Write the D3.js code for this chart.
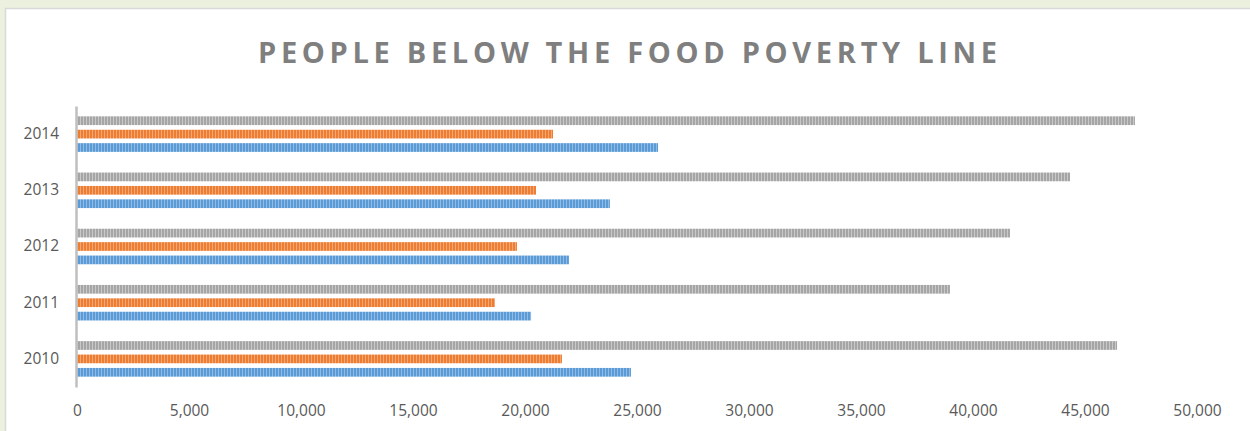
<!DOCTYPE html>
<html>
<head>
<meta charset="utf-8">
<script src="https://cdn.jsdelivr.net/npm/d3@7"></script>
<style>
  html, body { margin: 0; padding: 0; background: #ebf1de; }
  svg { display: block; }
</style>
</head>
<body>
<svg id="chart"></svg>
<script>
// data
const years = ["2010", "2011", "2012", "2013", "2014"];
const seriesNames = ["blue", "orange", "gray"];
const blueValues = [24730, 20270, 21960, 23790, 25940];
const orangeValues = [21650, 18660, 19640, 20490, 21250];
const grayValues = [46430, 38970, 41650, 44330, 47230];
const xTicks = [0, 5000, 10000, 15000, 20000, 25000, 30000, 35000, 40000, 45000, 50000];
const title = "PEOPLE BELOW THE FOOD POVERTY LINE";

const width = 1250, height = 431;
const colors = { blue: "#5b9bd5", orange: "#ed7d31", gray: "#a5a5a5" };
const stripe = { blue: "#8fbbe6", orange: "#f4a775", gray: "#c9c9c9" };

const svg = d3.select("#chart")
    .attr("width", width)
    .attr("height", height);

// frame: green outside, white panel with light gray edge
svg.append("rect")
    .attr("x", 5.5).attr("y", 8.5)
    .attr("width", width).attr("height", height)
    .attr("fill", "#fff")
    .attr("stroke", "#d9d9d9")
    .attr("stroke-width", 1.5);

// striped fills like the excel pattern
const defs = svg.append("defs");
seriesNames.forEach(s => {
    const p = defs.append("pattern")
        .attr("id", "pat-" + s)
        .attr("patternUnits", "userSpaceOnUse")
        .attr("width", 3).attr("height", 10);
    p.append("rect").attr("width", 3).attr("height", 10).attr("fill", stripe[s]);
    p.append("rect").attr("width", 2).attr("height", 10).attr("fill", colors[s]);
});

svg.append("text")
    .attr("x", 627.5)
    .attr("y", 62.5)
    .attr("text-anchor", "middle")
    .attr("textLength", 739)
    .attr("lengthAdjust", "spacing")
    .style("font-family", "'Open Sans', sans-serif")
    .style("font-weight", "bold")
    .style("font-size", "29px")
    .attr("fill", "#7f7f7f")
    .text(title);

const x = d3.scaleLinear()
    .domain([0, 50000])
    .range([77, 1197]);

// 2014 at top
const y0 = d3.scaleBand()
    .domain(years.slice().reverse())
    .range([106, 387])
    .paddingInner(0.32)
    .paddingOuter(0.16);

// gray on top, blue at the bottom of each group
const y1 = d3.scaleBand()
    .domain(["gray", "orange", "blue"])
    .range([0, y0.bandwidth()])
    .paddingInner(0.35)
    .paddingOuter(0.1);

const rows = years.map((yr, i) => ({
    year: yr,
    vals: [
        { key: "blue", v: blueValues[i] },
        { key: "orange", v: orangeValues[i] },
        { key: "gray", v: grayValues[i] }
    ]
}));

const groups = svg.selectAll(".grp")
    .data(rows)
    .enter().append("g")
    .attr("class", "grp")
    .attr("transform", d => "translate(0," + y0(d.year) + ")");

groups.selectAll("rect")
    .data(d => d.vals)
    .enter().append("rect")
    .attr("x", x(0))
    .attr("y", d => y1(d.key))
    .attr("height", y1.bandwidth())
    .attr("width", d => x(d.v) - x(0))
    .attr("fill", d => "url(#pat-" + d.key + ")");

// x axis labels only, no line
const xAxis = svg.append("g")
    .attr("transform", "translate(0,387)")
    .call(d3.axisBottom(x).tickValues(xTicks).tickFormat(d3.format(",")).tickSize(0).tickPadding(18));
xAxis.select(".domain").remove();
xAxis.selectAll("text")
    .style("font-family", "'Open Sans', sans-serif")
    .style("font-size", "15.5px")
    .attr("fill", "#595959");

// y axis
const yAxis = svg.append("g")
    .attr("transform", "translate(76,0)")
    .call(d3.axisLeft(y0).tickSize(0).tickPadding(17));
yAxis.select(".domain")
    .attr("stroke", "#bfbfbf")
    .attr("stroke-width", 2.5);
yAxis.selectAll("text")
    .style("font-family", "'Open Sans', sans-serif")
    .style("font-size", "15.5px")
    .attr("fill", "#595959");
</script>
</body>
</html>
